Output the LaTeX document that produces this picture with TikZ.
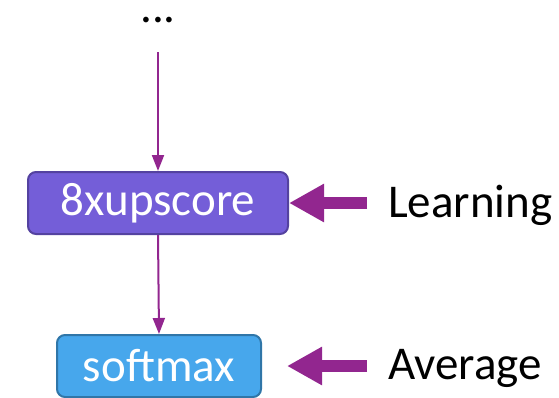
\documentclass[tikz,border=0pt]{standalone}
\usepackage{fontspec}
\setmainfont{Carlito}
\usetikzlibrary{arrows.meta}
\definecolor{arrowpurple}{RGB}{146,38,143}
\definecolor{boxone}{RGB}{116,94,216}
\definecolor{boxoneline}{RGB}{84,66,160}
\definecolor{boxtwo}{RGB}{71,167,236}
\definecolor{boxtwoline}{RGB}{48,118,168}
\tikzset{
  blk/.style={rounded corners=8pt, line width=2pt, inner sep=0pt, font=\fontsize{47}{47}\selectfont, text=white},
  thin arrow/.style={draw=arrowpurple, line width=2pt, -{Triangle[length=16pt,width=12pt]}},
  fat arrow/.style={draw=arrowpurple, line width=12pt, -{Triangle[length=35pt,width=36pt]}, shorten >=0pt},
  lbl/.style={font=\fontsize{47}{47}\selectfont, anchor=west, inner sep=0pt}
}
\begin{document}
\begin{tikzpicture}[x=1pt,y=-1pt]
\useasboundingbox (0,0) rectangle (559,397);
\node[font=\fontsize{47}{47}\selectfont, inner sep=0pt, text height=7pt, text depth=0pt, anchor=base] (dots) at (158,22) {...};
\coordinate (top) at (158,52);
\node[blk, fill=boxone, draw=boxoneline, minimum width=260pt, minimum height=62pt] (up) at (158,203) {8xupscore};
\node[blk, fill=boxtwo, draw=boxtwoline, minimum width=204pt, minimum height=62pt] (sm) at (159,366) {softmax};
\draw[thin arrow] (top) -- (up.north);
\draw[thin arrow] (up.south) -- (sm.north);
\node[lbl] (learn) at (388,205) {Learning};
\node[lbl] (avg) at (388,368) {Average};
\coordinate (lt) at (367,203);
\coordinate (at) at (367,366);
\coordinate (ah) at (287,366);
\draw[fat arrow] (lt) -- (up.east);
\draw[fat arrow] (at) -- (ah);
\end{tikzpicture}
\end{document}
